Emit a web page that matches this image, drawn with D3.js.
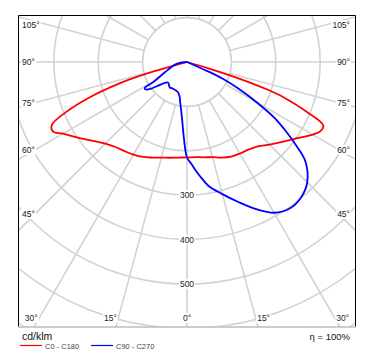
<!DOCTYPE html>
<html><head><meta charset="utf-8">
<script src="https://cdn.jsdelivr.net/npm/d3@7"></script>
<style>body{margin:0;background:#fff}svg{display:block}text{font-family:"Liberation Sans",Arial,sans-serif}</style>
</head><body>
<script>
// ---- data (gamma angle in degrees, luminous intensity in cd/klm) ----
const redLeftAngles  = [0,5,10,15,20,25,30,35,40,45,50,55,60,62.5,65,67.5,70,72.5,74,74.5,75,90];
const redLeftValues  = [215,216,219,223,229,236,241,245,250,260,276,298,323,340,336,295,235,158,95,45,0,0];
const redRightAngles = [0,5,10,15,20,25,30,35,40,45,50,55,60,62.5,65,67.5,70,71,72.5,73.5,74.5,90];
const redRightValues = [215,215,218,222,229,235,238,241,248,263,280,300,327,338,339,290,230,194,115,50,0,0];
const blueLeftAngles = [0,2.5,5,7.5,10,11.7,16.5,27.4,34.4,43,50.7,54,57.4,58.8,59.2,65,79,90];
const blueLeftValues = [215,168,128,105,90,81,71,68,69,63,84,104,113,110,89,55,25,0];
const blueRightAngles= [0,2.5,5,7.5,10,15,20,25,30,35,40,45,50,52.5,55,57.5,60,62.5,65,66,67,90];
const blueRightValues= [215,230,248,266,284,308,335,365,392,403,399,383,348,311,272,233,181,133,88,44,0,0];
const ringTicks = [100,200,300,400,500,600,700];
const ringLabels = [300,400,500];
const sideAngleTicks = [45,60,75,90,105];
const bottomAngleTicks = [30,15,0];
const seriesNames = ["C0 - C180","C90 - C270"];
const seriesColors = ["#ff0000","#0000ff"];

const W=392,H=360;
const frame={x0:18,y0:15,x1:356,y1:327};
const cx=187, cy=62;
const r=d3.scaleLinear().domain([0,100]).range([0,44.4]);

const svg=d3.select("body").append("svg").attr("width",W).attr("height",H);
svg.append("defs").append("clipPath").attr("id","fc").append("rect")
  .attr("x",frame.x0).attr("y",frame.y0).attr("width",frame.x1-frame.x0).attr("height",frame.y1-frame.y0);

const grid=svg.append("g").attr("clip-path","url(#fc)");
grid.selectAll("circle").data(ringTicks).join("circle")
  .attr("cx",cx).attr("cy",cy).attr("r",d=>r(d))
  .attr("fill","none").attr("stroke","#d2d2d2").attr("stroke-width",1.6);
const spokes=d3.range(0,360,15);
grid.selectAll("line").data(spokes).join("line")
  .attr("x1",d=>cx+Math.sin(d*Math.PI/180)*r(100))
  .attr("y1",d=>cy+Math.cos(d*Math.PI/180)*r(100))
  .attr("x2",d=>cx+Math.sin(d*Math.PI/180)*r(900))
  .attr("y2",d=>cy+Math.cos(d*Math.PI/180)*r(900))
  .attr("stroke","#d2d2d2").attr("stroke-width",1.6);

// labels with white background
const labG=svg.append("g");
function label(x,y,txt,anchor){
  const g=labG.append("g");
  const t=g.append("text").attr("x",x).attr("y",y).attr("text-anchor",anchor)
    .attr("dominant-baseline","central").attr("font-size",8.5).attr("fill","#222").text(txt);
  const b=t.node().getBBox();
  g.insert("rect","text").attr("x",b.x-1).attr("y",b.y).attr("width",b.width+2).attr("height",b.height).attr("fill","#fff");
}
sideAngleTicks.forEach(a=>{
  const cot=Math.cos(a*Math.PI/180)/Math.sin(a*Math.PI/180);
  let y=cy+(cx-35)*cot; y=Math.max(25,y);
  label(22,y,a+"°","start");
  label(350,y,a+"°","end");
});
bottomAngleTicks.forEach(a=>{
  const yb=318;
  const dx=(yb-cy)*Math.tan(a*Math.PI/180);
  if(a===0){label(cx,yb,"0°","middle");}
  else{
    label(cx-dx-8,yb,a+"°","middle");
    label(cx+dx+8,yb,a+"°","middle");
  }
});
ringLabels.forEach(v=>label(cx,cy+r(v),String(v),"middle"));

// curves
const lr=d3.lineRadial().angle(d=>d[0]).radius(d=>r(d[1])).curve(d3.curveCatmullRom.alpha(0.5));
function buildPath(la,lv,ra,rv){
  const pts=[];
  for(let i=la.length-1;i>=0;i--) pts.push([Math.PI+la[i]*Math.PI/180,lv[i]]);
  for(let i=1;i<ra.length;i++) pts.push([Math.PI-ra[i]*Math.PI/180,rv[i]]);
  return pts;
}
const curves=[buildPath(redLeftAngles,redLeftValues,redRightAngles,redRightValues),
               buildPath(blueLeftAngles,blueLeftValues,blueRightAngles,blueRightValues)];
const cg=svg.append("g").attr("transform",`translate(${cx},${cy})`);
curves.forEach((c,i)=>cg.append("path").attr("d",lr(c)).attr("fill","none")
  .attr("stroke",seriesColors[i]).attr("stroke-width",1.8).attr("stroke-linejoin","round"));

// frame
svg.append("path").attr("d",`M${frame.x0+0.5},${frame.y1}V${frame.y0+0.5}H${frame.x1-0.5}V${frame.y1}`)
  .attr("fill","none").attr("stroke","#000").attr("stroke-width",1);
svg.append("line").attr("x1",frame.x0).attr("x2",frame.x1).attr("y1",frame.y1).attr("y2",frame.y1)
  .attr("stroke","#bdbdbd").attr("stroke-width",1.6);

// footer
svg.append("text").attr("x",22).attr("y",340).attr("font-size",10.5).attr("fill","#111").text("cd/klm");
const legX=[20,91];
seriesNames.forEach((n,i)=>{
  svg.append("line").attr("x1",legX[i]).attr("x2",legX[i]+22).attr("y1",345.5).attr("y2",345.5)
    .attr("stroke",seriesColors[i]).attr("stroke-width",1.2);
  svg.append("text").attr("x",legX[i]+25).attr("y",348.5).attr("font-size",7.5).attr("fill","#444").text(n);
});
svg.append("text").attr("x",350).attr("y",339.5).attr("text-anchor","end").attr("font-size",9.5).attr("fill","#111").text("η = 100%");
</script>
</body></html>
